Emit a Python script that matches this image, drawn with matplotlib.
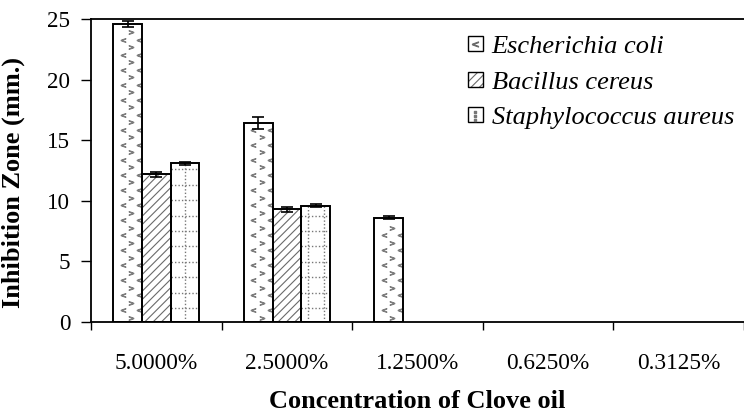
import numpy as np
import matplotlib.pyplot as plt
from matplotlib.patches import Patch
from matplotlib.lines import Line2D
from matplotlib.legend_handler import HandlerTuple

concentrations = ["5.0000%", "2.5000%", "1.2500%", "0.6250%", "0.3125%"]
species = ["Escherichia coli", "Bacillus cereus", "Staphylococcus aureus"]
e_coli = [24.6, 16.4, 8.6, 0, 0]
e_coli_err = [0.25, 0.5, 0.12, 0, 0]
b_cereus = [12.2, 9.3, 0, 0, 0]
b_cereus_err = [0.2, 0.2, 0, 0, 0]
s_aureus = [13.1, 9.6, 0, 0, 0]
s_aureus_err = [0.12, 0.1, 0, 0, 0]
y_ticks = [0, 5, 10, 15, 20, 25]

plt.rcParams['font.family'] = ['Liberation Serif', 'DejaVu Serif']
plt.rcParams['hatch.linewidth'] = 0.8

BAR_W = 0.22
GRAY = '#6a6a6a'


def chevrons(ax, xc, h, w):
    # staggered rows of > and < marks, like the Excel fill
    x0, x1 = xc - w / 2, xc + w / 2
    rows = np.arange(0.35, h - 0.3, 0.62)
    for i, y in enumerate(rows):
        if i % 2 == 0:
            origin, mk = 0.182, '$>$'
        else:
            origin, mk = 0.243, '$<$'
        xs = origin + 0.125 * np.arange(0, 45)
        xs = xs[(xs > x0 + 0.012) & (xs < x1 - 0.012)]
        ax.plot(xs, np.full(len(xs), y), ls='none', marker=mk, ms=3.4,
                mew=0.7, color='#7c7c7c', zorder=3)


def dotted_grid(ax, xc, h, w):
    x0, x1 = xc - w / 2, xc + w / 2
    xs = 0.722 + 0.1178 * np.arange(-6, 45)
    xs = xs[(xs > x0 + 0.02) & (xs < x1 - 0.02)]
    ax.vlines(xs, 0, h, colors='#777777', linestyles=(0, (1, 1.5)),
              lw=1, zorder=3)
    ys = np.arange(1.155, h - 0.2, 1.27)
    ax.hlines(ys, x0, x1, colors='#777777', linestyles=(0, (1, 1.5)),
              lw=1, zorder=3)


fig = plt.figure(figsize=(7.44, 4.12), dpi=100)
ax = fig.add_axes([91 / 744, 90 / 412, 653 / 744, 303 / 412])

centers = np.arange(len(concentrations)) + 0.5
series = [(e_coli, e_coli_err), (b_cereus, b_cereus_err), (s_aureus, s_aureus_err)]

for k, (vals, errs) in enumerate(series):
    vals = np.array(vals, dtype=float)
    errs = np.array(errs, dtype=float)
    keep = vals > 0
    xs = centers[keep] + (k - 1) * BAR_W
    hs = vals[keep]
    if k == 1:
        ax.bar(xs, hs, BAR_W, facecolor='white', edgecolor=GRAY,
               hatch='////', lw=0, zorder=2)
    else:
        ax.bar(xs, hs, BAR_W, facecolor='white', lw=0, zorder=2)
        for x, h in zip(xs, hs):
            if k == 0:
                chevrons(ax, x, h, BAR_W)
            else:
                dotted_grid(ax, x, h, BAR_W)
    ax.bar(xs, hs, BAR_W, fill=False, edgecolor='black', lw=1.4, zorder=4)
    ax.errorbar(xs, hs, yerr=errs[keep], fmt='none', ecolor='black',
                elinewidth=1.2, capsize=4.3, capthick=1.2, zorder=5)

ax.set_xlim(0, 653 / 131.6)
ax.set_ylim(0, 25)
ax.set_yticks(y_ticks)
ax.tick_params(axis='y', direction='out', length=7, width=1, pad=8,
               labelsize=16.6)

ax.set_xticks(np.arange(len(concentrations) + 1))
ax.set_xticklabels([])
ax.set_xticks(centers, minor=True)
ax.set_xticklabels(concentrations, minor=True)
ax.tick_params(axis='x', which='major', direction='out', length=6, width=1)
ax.tick_params(axis='x', which='minor', length=0, pad=22, labelsize=16.8)

for side in ['left', 'bottom', 'top']:
    ax.spines[side].set_linewidth(1.3)
ax.spines['right'].set_visible(False)

ax.set_xlabel('Concentration of Clove oil', fontweight='bold', fontsize=19,
              labelpad=12)
ax.set_ylabel('Inhibition Zone (mm.)', fontweight='bold', fontsize=19)
ax.yaxis.set_label_coords(-0.101, 0.459)

handles = [
    (Patch(fc='white', ec='black', lw=1),
     Line2D([], [], ls='none', marker='$<$', ms=4.5, mew=0.7, color=GRAY)),
    (Patch(fc='white', ec=GRAY, hatch='////', lw=0.5),
     Patch(fill=False, ec='black', lw=1)),
    (Patch(fc='white', ec='black', lw=1),
     Line2D([], [], ls='none', marker=r'$\vdots$', ms=7, color='#777777')),
]
ax.legend(handles, species, handler_map={tuple: HandlerTuple(ndivide=1)},
          prop={'style': 'italic', 'size': 19}, frameon=False,
          loc='upper left', bbox_to_anchor=(468 / 744, 0.913),
          bbox_transform=fig.transFigure, borderpad=0, borderaxespad=0,
          handlelength=0.55, handleheight=0.5, handletextpad=0.35,
          labelspacing=0.52)

fig.savefig('out.png', dpi=100)
